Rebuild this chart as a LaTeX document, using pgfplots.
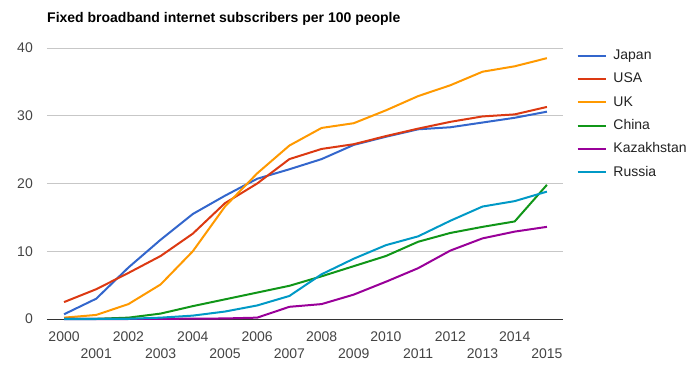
\documentclass[border=0pt]{standalone}
\usepackage{pgfplots}
\pgfplotsset{compat=1.18}
\usepackage{fontspec}
\setmainfont{Liberation Sans}
\definecolor{cJapan}{HTML}{3366CC}
\definecolor{cUSA}{HTML}{DC3912}
\definecolor{cUK}{HTML}{FF9900}
\definecolor{cChina}{HTML}{109618}
\definecolor{cKaz}{HTML}{990099}
\definecolor{cRus}{HTML}{0099C6}
\definecolor{tickc}{HTML}{444444}
\definecolor{legc}{HTML}{222222}
\pgfplotstableread{
year Japan USA UK China Kaz Rus
2000 0.7 2.5 0.2 0.0 0.0 0.0
2001 3.0 4.4 0.6 0.03 0.0 0.0
2002 7.6 6.8 2.2 0.2 0.0 0.03
2003 11.7 9.3 5.1 0.8 0.02 0.2
2004 15.5 12.6 10.0 1.9 0.05 0.5
2005 18.2 17.1 16.6 2.9 0.08 1.1
2006 20.7 20.0 21.5 3.9 0.2 2.0
2007 22.1 23.6 25.6 4.9 1.8 3.4
2008 23.6 25.1 28.2 6.3 2.2 6.6
2009 25.7 25.8 28.9 7.8 3.6 8.9
2010 26.9 27.0 30.8 9.3 5.5 10.9
2011 28.0 28.1 32.9 11.4 7.5 12.2
2012 28.3 29.1 34.5 12.7 10.1 14.5
2013 29.0 29.9 36.5 13.6 11.9 16.6
2014 29.7 30.2 37.3 14.4 12.9 17.4
2015 30.6 31.3 38.5 19.8 13.6 18.8
}\datatable
\begin{document}
\begin{tikzpicture}
\path[use as bounding box] (0,0) rectangle (692bp,371bp);
\begin{axis}[
  at={(47bp,52bp)}, anchor=south west,
  scale only axis, width=516bp, height=271bp,
  xmin=1999.47, xmax=2015.5, ymin=0, ymax=40,
  clip=false,
  axis line style={draw=none},
  major tick length=0pt,
  tick style={draw=none},
  /pgf/number format/assume math mode=true,
  ticklabel style={font=\fontsize{14bp}{16bp}\selectfont, text=tickc, inner sep=0pt},
  xtick={2000,2002,...,2014},
  xticklabel style={/pgf/number format/1000 sep={}, anchor=north, yshift=-12.5bp},
  extra x ticks={2001,2003,...,2015},
  extra x tick style={xticklabel style={yshift=-17.5bp}},
  ytick={10,20,30,40},
  extra y ticks={0},
  extra y tick style={grid style={draw=black!80, line width=1bp}},
  yticklabel style={anchor=east, xshift=-14bp},
  ymajorgrids,
  grid style={draw=black!22, line width=0.8bp},
  title={\bfseries Fixed broadband internet subscribers per 100 people},
  title style={at={(axis description cs:0,1)}, anchor=base west, yshift=19.3bp, inner sep=0pt, font=\fontsize{14bp}{16bp}\selectfont},
  legend style={at={(axis description cs:1.0266,0.994)}, anchor=north west, draw=none, fill=none, inner sep=0pt, outer sep=0pt, row sep=10.8bp,
    font=\fontsize{14bp}{16bp}\selectfont, text=legc,
    nodes={inner sep=0pt, text height=10bp, text depth=2.5bp},
    /tikz/every odd column/.append style={column sep=6.7bp}},
  legend cell align=left,
  legend image code/.code={\draw[#1, line width=2bp] (0bp,0bp) -- (28bp,0bp);},
  every axis plot/.append style={line width=2bp, mark=none, line join=round},
]
\addplot[cJapan] table[x=year,y=Japan]{\datatable};
\addlegendentry{Japan}
\addplot[cUSA] table[x=year,y=USA]{\datatable};
\addlegendentry{USA}
\addplot[cUK] table[x=year,y=UK]{\datatable};
\addlegendentry{UK}
\addplot[cChina] table[x=year,y=China]{\datatable};
\addlegendentry{China}
\addplot[cKaz] table[x=year,y=Kaz]{\datatable};
\addlegendentry{Kazakhstan}
\addplot[cRus] table[x=year,y=Rus]{\datatable};
\addlegendentry{Russia}
\end{axis}
\end{tikzpicture}
\end{document}
